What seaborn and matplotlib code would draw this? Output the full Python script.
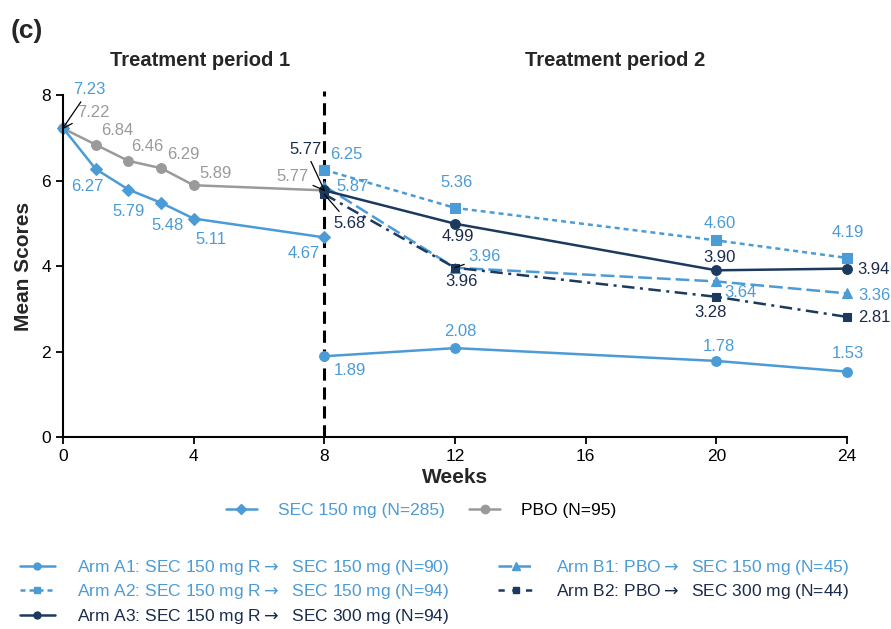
import matplotlib
matplotlib.use("Agg")
import matplotlib.pyplot as plt
from matplotlib.lines import Line2D
import seaborn as sns

# ---------------------------------------------------------------------------
# Data
# ---------------------------------------------------------------------------
WEEKS_P1 = [0, 1, 2, 3, 4, 8]
WEEKS_P2 = [8, 12, 20, 24]

SEC150 = [7.23, 6.27, 5.79, 5.48, 5.11, 4.67]
PBO    = [7.22, 6.84, 6.46, 6.29, 5.89, 5.77]

ARM_A1 = [1.89, 2.08, 1.78, 1.53]
ARM_A2 = [6.25, 5.36, 4.60, 4.19]
ARM_A3 = [5.77, 4.99, 3.90, 3.94]
ARM_B1 = [5.87, 3.96, 3.64, 3.36]
ARM_B2 = [5.68, 3.96, 3.28, 2.81]

ARROW = r"$\rightarrow$"
LEGEND_TOP = ["SEC 150 mg (N=285)", "PBO (N=95)"]
LEGEND_ARMS = [
    f"Arm A1: SEC 150 mg R{ARROW}  SEC 150 mg (N=90)",
    f"Arm A2: SEC 150 mg R{ARROW}  SEC 150 mg (N=94)",
    f"Arm A3: SEC 150 mg R{ARROW}  SEC 300 mg (N=94)",
    f"Arm B1: PBO{ARROW}  SEC 150 mg (N=45)",
    f"Arm B2: PBO{ARROW}  SEC 300 mg (N=44)",
]

# label offsets in pixels (dx, dy up), and whether a leader line is drawn
OFF_SEC = [(26, 38), (-8, -18), (0, -22), (7, -23), (17, -21), (-21, -16)]
LEAD_SEC = [True, False, False, False, False, False]
OFF_PBO = [(30, 16), (22, 14), (19, 14), (22, 14), (22, 12), (-32, 14)]
LEAD_PBO = [True, False, False, False, False, True]
OFF_A1 = [(26, -14), (5, 17), (3, 14), (1, 18)]
OFF_A2 = [(22, 15), (2, 25), (3, 17), (1, 25)]
OFF_A3 = [(-19, 41), (3, -13), (3, 13), (27, -1)]
LEAD_A3 = [True, False, False, False]
OFF_B1 = [(28, 0), (30, 11), (24, -11), (27, -2)]
LEAD_B1 = [False, True, False, False]
OFF_B2 = [(25, -29), (7, -14), (-6, -16), (27, -1)]
LEAD_B2 = [True, False, False, False]

LIGHT = "#4b9bd6"
GREY = "#9a9a9a"
NAVY = "#1c3a5e"
NAVY_TXT = "#1a2b4c"

LS_A2 = (0, (2.0, 1.6))
LS_B1 = (0, (5.5, 2.0))
LS_B2 = (0, (5.0, 2.2, 1.2, 2.2))

sns.set_style("white")
plt.rcParams["font.family"] = ["Liberation Sans", "DejaVu Sans"]

fig = plt.figure(figsize=(8.91, 6.29), dpi=100)
ax = fig.add_axes([0.0707, 0.3052, 0.8799, 0.5437])

PX = 72 / 100  # pixels -> points


def draw(x, y, color, marker, ls, ms=7):
    sns.lineplot(x=x, y=y, color=color, marker=marker, linestyle=ls, lw=1.8,
                 markersize=ms, markeredgecolor=color, markeredgewidth=0.8,
                 ax=ax, clip_on=False, legend=False)


def labels(x, y, offs, color, leaders=None):
    for i, (xi, yi) in enumerate(zip(x, y)):
        dx, dy = offs[i]
        lead = leaders[i] if leaders else False
        ax.annotate(f"{yi:.2f}", xy=(xi, yi), xytext=(dx * PX, dy * PX),
                    textcoords="offset points", ha="center", va="center",
                    fontsize=12, color=color, annotation_clip=False,
                    arrowprops=dict(arrowstyle="-", color="black", lw=0.9,
                                    shrinkA=1, shrinkB=0) if lead else None)


# period 1
draw(WEEKS_P1, PBO, GREY, "o", "-")
draw(WEEKS_P1, SEC150, LIGHT, "D", "-", ms=6)
# period 2
draw(WEEKS_P2, ARM_A1, LIGHT, "o", "-")
draw(WEEKS_P2, ARM_A2, LIGHT, "s", LS_A2)
draw(WEEKS_P2, ARM_B1, LIGHT, "^", LS_B1)
draw(WEEKS_P2, ARM_B2, NAVY, "s", LS_B2, ms=6)
draw(WEEKS_P2, ARM_A3, NAVY, "o", "-")

# boundary between treatment periods
ax.plot([8, 8], [0, 8.1], color="black", lw=2.2, linestyle=(0, (4, 2.2)),
        clip_on=False, zorder=1)

labels(WEEKS_P1, SEC150, OFF_SEC, LIGHT, LEAD_SEC)
labels(WEEKS_P1, PBO, OFF_PBO, GREY, LEAD_PBO)
labels(WEEKS_P2, ARM_A1, OFF_A1, LIGHT)
labels(WEEKS_P2, ARM_A2, OFF_A2, LIGHT)
labels(WEEKS_P2, ARM_A3, OFF_A3, NAVY_TXT, LEAD_A3)
labels(WEEKS_P2, ARM_B1, OFF_B1, LIGHT, LEAD_B1)
labels(WEEKS_P2, ARM_B2, OFF_B2, NAVY_TXT, LEAD_B2)

ax.set_xlim(0, 24)
ax.set_ylim(0, 8)
ax.set_xticks([0, 4, 8, 12, 16, 20, 24])
ax.set_yticks([0, 2, 4, 6, 8])
sns.despine(ax=ax)
for s in ("left", "bottom"):
    ax.spines[s].set_color("black")
    ax.spines[s].set_linewidth(1.5)
ax.tick_params(direction="out", length=5, width=1.3, labelsize=12.5,
               colors="black", left=True, bottom=True)
ax.set_xlabel("Weeks", fontsize=15, fontweight="bold", labelpad=3)
ax.set_ylabel("Mean Scores", fontsize=15, fontweight="bold", labelpad=6)

fig.text(0.012, 1 - 31 / 629, "(c)", fontsize=19, fontweight="bold", va="center")
fig.text(200 / 891, 1 - 60 / 629, "Treatment period 1", fontsize=14.5,
         fontweight="bold", ha="center", va="center")
fig.text(615 / 891, 1 - 60 / 629, "Treatment period 2", fontsize=14.5,
         fontweight="bold", ha="center", va="center")


# legends
def handle(color, marker, ls, ms=6):
    return Line2D([], [], color=color, marker=marker, linestyle=ls, lw=1.8,
                  markersize=ms, markeredgecolor=color)


top_handles = [handle(LIGHT, "D", "-", ms=5), handle(GREY, "o", "-")]
leg1 = fig.legend(top_handles, LEGEND_TOP, loc="center",
                  bbox_to_anchor=(0.4725, 1 - 510 / 629), ncol=2, frameon=False,
                  fontsize=12.5, handlelength=1.8, handletextpad=1.2,
                  columnspacing=1.4)
for t, c in zip(leg1.get_texts(), [LIGHT, "black"]):
    t.set_color(c)

arm_handles = [
    handle(LIGHT, "o", "-", ms=5),
    handle(LIGHT, "s", LS_A2, ms=5),
    handle(NAVY, "o", "-", ms=5),
    handle(LIGHT, "^", LS_B1, ms=6),
    handle(NAVY, "s", (0, (2.5, 3)), ms=5),
]
leg2 = fig.legend(arm_handles, LEGEND_ARMS, loc="upper left",
                  bbox_to_anchor=(0.005, 1 - 542 / 629), ncol=2, frameon=False,
                  fontsize=12.5, handlelength=2.0, handletextpad=1.3,
                  columnspacing=2.8, labelspacing=0.32)
for t, c in zip(leg2.get_texts(), [LIGHT, LIGHT, NAVY_TXT, LIGHT, NAVY_TXT]):
    t.set_color(c)

fig.savefig("out.png", dpi=100)
